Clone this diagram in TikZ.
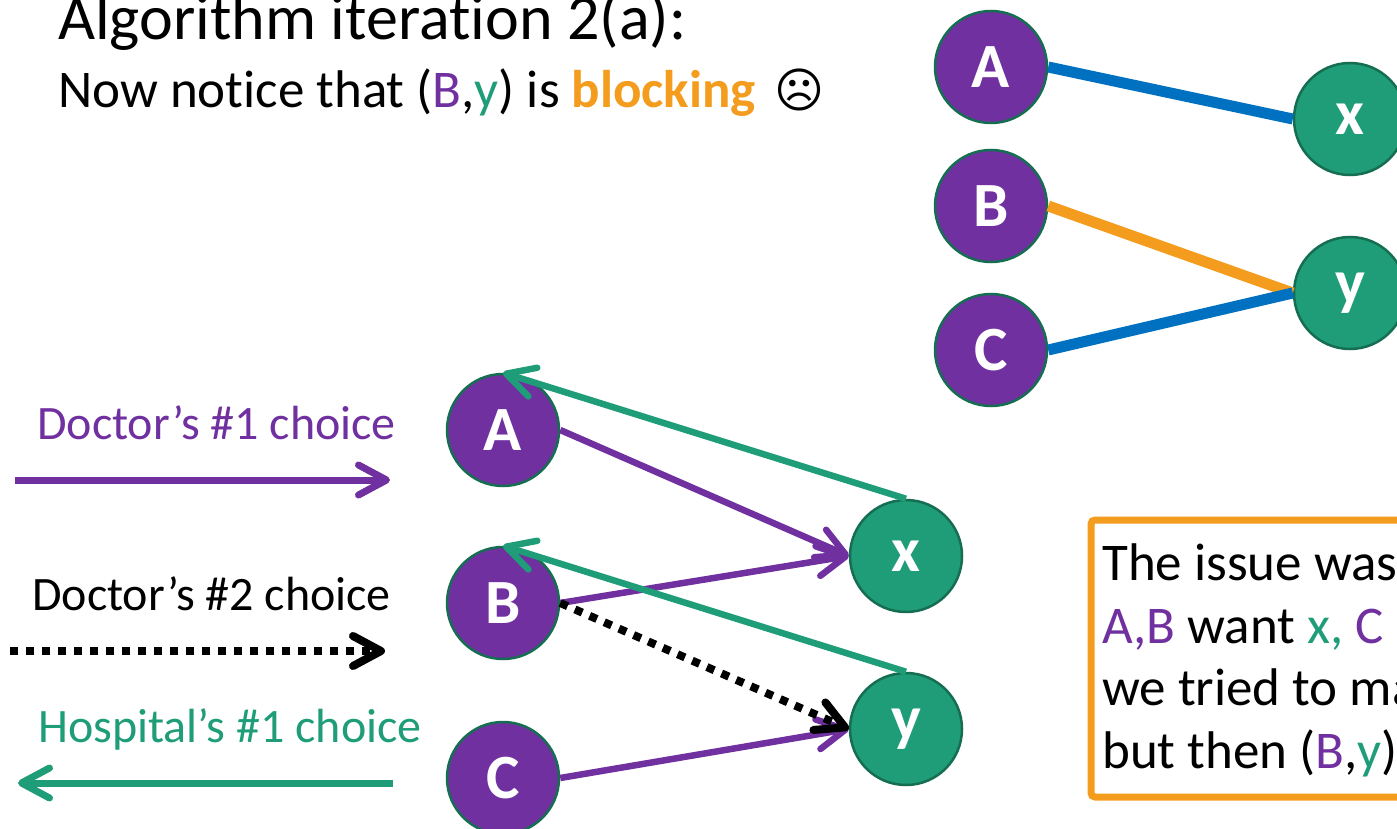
\documentclass[tikz,border=0pt]{standalone}
\usepackage{fontspec}
\setmainfont{Carlito}[Ligatures={NoCommon}]
\newfontfamily\symfont{DejaVu Sans}
\usetikzlibrary{arrows.meta}
\definecolor{purp}{RGB}{112,48,160}
\definecolor{tealc}{RGB}{31,157,120}
\definecolor{nodeborder}{RGB}{22,110,82}
\definecolor{bluec}{RGB}{0,112,192}
\definecolor{orangec}{RGB}{243,156,30}
\tikzset{
  doc/.style={circle, minimum size=112pt, inner sep=0pt, draw=nodeborder, line width=2.5pt, fill=purp, text=white, font=\bfseries\fontsize{63}{63}\selectfont},
  hosp/.style={doc, fill=tealc},
  txt/.style={anchor=base west, inner sep=0pt},
  barb/.style={-{Straight Barb[length=28pt,width=30pt,round]}},
  pref1/.style={draw=purp, line width=6.5pt, barb},
  pref2/.style={draw=black, line width=8pt, dash pattern=on 8pt off 8pt, barb},
  hpref/.style={draw=tealc, line width=6.5pt, barb},
  match/.style={draw=bluec, line width=11pt},
  blockedge/.style={draw=orangec, line width=11pt},
  legendfont/.style={font=\fontsize{48}{48}\selectfont},
  boxfont/.style={font=\fontsize{53}{53}\selectfont}
}
\begin{document}
\begin{tikzpicture}[x=1pt,y=-1pt]
\useasboundingbox (0,0) rectangle (1397,829);
% title
\node[txt, font=\fontsize{64}{64}\selectfont] (title) at (58,40) {Algorithm iteration 2(a):};
\node[txt, font=\fontsize{53}{53}\selectfont] (sub) at (58,108) {Now notice that (\textcolor{purp}{B},\textcolor{tealc}{y}) is \textcolor{orangec}{\textbf{blocking}}};
\node[anchor=base west, inner sep=0pt, font=\symfont\fontsize{48}{48}\selectfont] (frown) at (774,108) {☹};
% top right matching
\node[doc] (A2) at (991,67) {A};
\node[doc] (B2) at (991,206) {B};
\node[doc] (C2) at (991,350) {C};
\node[hosp] (x2) at (1350,119) {x};
\node[hosp] (y2) at (1350,293) {y};
\draw[match] (A2.east) -- (x2.west);
\draw[blockedge] (B2.east) -- (y2.west);
\draw[match] (C2.east) -- (y2.west);
% legend
\node[txt, text=purp, legendfont] (l1t) at (37,439) {Doctor’s \#1 choice};
\coordinate (l1s) at (15,480);
\coordinate (l1e) at (390,480);
\draw[pref1, line width=7pt] (l1s) -- (l1e);
\node[txt, text=black, legendfont] (l2t) at (32,610) {Doctor’s \#2 choice};
\coordinate (l2s) at (10,651);
\coordinate (l2e) at (385,651);
\draw[pref2] (l2s) -- (l2e);
\node[txt, text=tealc, legendfont] (l3t) at (38,742) {Hospital’s \#1 choice};
\coordinate (l3s) at (393,783);
\coordinate (l3e) at (18,783);
\draw[hpref, line width=7pt] (l3s) -- (l3e);
% bottom graph
\node[doc] (A) at (503,430) {A};
\node[doc] (B) at (503,603) {B};
\node[doc] (C) at (503,778) {C};
\node[hosp] (x) at (906,556) {x};
\node[hosp] (y) at (906,729) {y};
\draw[pref1] (A.east) -- (x.west);
\draw[pref1] (B.east) -- (x.west);
\draw[pref1] (C.east) -- (y.west);
\draw[pref2] (B.east) -- (y.west);
\draw[hpref] (x.north) -- (A.north);
\draw[hpref] (y.north) -- (B.north);
% box
\draw[draw=orangec, line width=7pt, rounded corners=4pt] (1091,520) rectangle (1500,797);
\node[txt, boxfont] (bt1) at (1102,580) {The issue was};
\node[txt, boxfont] (bt2) at (1102,643) {\textcolor{purp}{A,B} want \textcolor{tealc}{x,} \textcolor{purp}{C}};
\node[txt, boxfont] (bt3) at (1102,705) {we tried to ma};
\node[txt, boxfont] (bt4) at (1102,768) {but then (\textcolor{purp}{B},\textcolor{tealc}{y})};
\end{tikzpicture}
\end{document}
